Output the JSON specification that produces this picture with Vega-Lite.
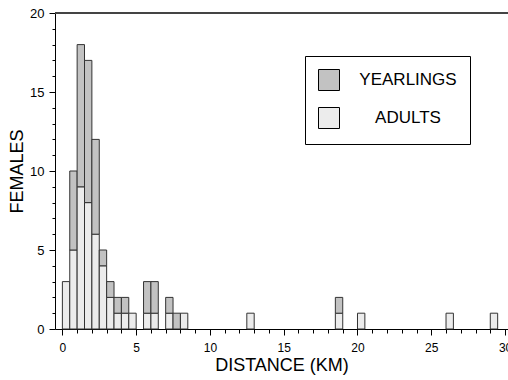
{
  "$schema": "https://vega.github.io/schema/vega-lite/v6.json",
  "width": 453,
  "height": 316,
  "autosize": {"type": "none"},
  "padding": {"left": 55, "top": 13, "right": 0, "bottom": 51},
  "background": "white",
  "config": {
    "view": {"stroke": null},
    "font": "Liberation Sans"
  },
  "data": {
    "values": [
      {"start": 0, "end": 0.5, "group": "ADULTS", "ord": 0, "n": 3},
      {"start": 0.5, "end": 1, "group": "ADULTS", "ord": 0, "n": 5},
      {"start": 0.5, "end": 1, "group": "YEARLINGS", "ord": 1, "n": 5},
      {"start": 1, "end": 1.5, "group": "ADULTS", "ord": 0, "n": 9},
      {"start": 1, "end": 1.5, "group": "YEARLINGS", "ord": 1, "n": 9},
      {"start": 1.5, "end": 2, "group": "ADULTS", "ord": 0, "n": 8},
      {"start": 1.5, "end": 2, "group": "YEARLINGS", "ord": 1, "n": 9},
      {"start": 2, "end": 2.5, "group": "ADULTS", "ord": 0, "n": 6},
      {"start": 2, "end": 2.5, "group": "YEARLINGS", "ord": 1, "n": 6},
      {"start": 2.5, "end": 3, "group": "ADULTS", "ord": 0, "n": 4},
      {"start": 2.5, "end": 3, "group": "YEARLINGS", "ord": 1, "n": 1},
      {"start": 3, "end": 3.5, "group": "ADULTS", "ord": 0, "n": 2},
      {"start": 3, "end": 3.5, "group": "YEARLINGS", "ord": 1, "n": 1},
      {"start": 3.5, "end": 4, "group": "ADULTS", "ord": 0, "n": 1},
      {"start": 3.5, "end": 4, "group": "YEARLINGS", "ord": 1, "n": 1},
      {"start": 4, "end": 4.5, "group": "ADULTS", "ord": 0, "n": 1},
      {"start": 4, "end": 4.5, "group": "YEARLINGS", "ord": 1, "n": 1},
      {"start": 4.5, "end": 5, "group": "ADULTS", "ord": 0, "n": 1},
      {"start": 5.5, "end": 6, "group": "ADULTS", "ord": 0, "n": 1},
      {"start": 5.5, "end": 6, "group": "YEARLINGS", "ord": 1, "n": 2},
      {"start": 6, "end": 6.5, "group": "ADULTS", "ord": 0, "n": 1},
      {"start": 6, "end": 6.5, "group": "YEARLINGS", "ord": 1, "n": 2},
      {"start": 7, "end": 7.5, "group": "ADULTS", "ord": 0, "n": 1},
      {"start": 7, "end": 7.5, "group": "YEARLINGS", "ord": 1, "n": 1},
      {"start": 7.5, "end": 8, "group": "YEARLINGS", "ord": 1, "n": 1},
      {"start": 8, "end": 8.5, "group": "ADULTS", "ord": 0, "n": 1},
      {"start": 12.5, "end": 13, "group": "ADULTS", "ord": 0, "n": 1},
      {"start": 18.5, "end": 19, "group": "ADULTS", "ord": 0, "n": 1},
      {"start": 18.5, "end": 19, "group": "YEARLINGS", "ord": 1, "n": 1},
      {"start": 20, "end": 20.5, "group": "ADULTS", "ord": 0, "n": 1},
      {"start": 26, "end": 26.5, "group": "ADULTS", "ord": 0, "n": 1},
      {"start": 29, "end": 29.5, "group": "ADULTS", "ord": 0, "n": 1}
    ]
  },
  "resolve": {"axis": {"y": "independent"}},
  "layer": [
    {
      "transform": [
        {"stack": "n", "groupby": ["start"], "sort": [{"field": "ord", "order": "ascending"}], "as": ["lo", "hi"]}
      ],
      "mark": {"type": "rect", "stroke": "#333333", "strokeWidth": 1},
      "encoding": {
        "x": {
          "field": "start",
          "type": "quantitative",
          "scale": {"domain": [-0.5, 30.2], "nice": false, "zero": false},
          "axis": {
            "title": "DISTANCE (KM)",
            "titleFontSize": 18,
            "titleFontWeight": "normal",
            "titleColor": "black",
            "titlePadding": 3,
            "values": [0,1,2,3,4,5,6,7,8,9,10,11,12,13,14,15,16,17,18,19,20,21,22,23,24,25,26,27,28,29,30],
            "labelExpr": "datum.value % 5 === 0 ? datum.label : ''",
            "tickSize": {"condition": {"test": "datum.value % 5 === 0", "value": 6}, "value": 4},
            "labelFontSize": 12,
            "labelColor": "black",
            "labelPadding": 7,
            "labelFlush": false,
            "labelOverlap": false,
            "grid": false,
            "domainColor": "black",
            "tickColor": "black"
          }
        },
        "x2": {"field": "end"},
        "y": {
          "field": "lo",
          "type": "quantitative",
          "scale": {"domain": [0, 20], "nice": false, "zero": true},
          "axis": {
            "title": "FEMALES",
            "titleFontSize": 18,
            "titleFontWeight": "normal",
            "titleColor": "black",
            "titlePadding": 3,
            "values": [0,1,2,3,4,5,6,7,8,9,10,11,12,13,14,15,16,17,18,19,20],
            "labelExpr": "datum.value % 5 === 0 ? datum.label : ''",
            "tickSize": {"condition": {"test": "datum.value % 5 === 0", "value": 6}, "value": 3},
            "labelFontSize": 13,
            "labelColor": "black",
            "labelPadding": 5,
            "labelOverlap": false,
            "labelFlush": false,
            "grid": false,
            "domainColor": "black",
            "tickColor": "black"
          }
        },
        "y2": {"field": "hi"},
        "fill": {
          "field": "group",
          "type": "nominal",
          "scale": {"domain": ["YEARLINGS", "ADULTS"], "range": ["#c2c2c2", "#ececec"]},
          "legend": {
            "orient": "none",
            "legendX": 250,
            "legendY": 43,
            "title": null,
            "symbolType": "square",
            "symbolSize": 441,
            "symbolStrokeColor": "black",
            "symbolStrokeWidth": 1,
            "symbolOpacity": 1,
            "labelFontSize": 17,
            "labelColor": "black",
            "labelAlign": "center",
            "labelOffset": 68,
            "rowPadding": 12,
            "padding": 13,
            "strokeColor": "black",
            "fillColor": "white"
          }
        }
      }
    },
    {
      "mark": {"type": "rule", "color": "#444444", "strokeWidth": 1},
      "encoding": {"y": {"datum": 20, "type": "quantitative", "axis": null}}
    }
  ]
}
